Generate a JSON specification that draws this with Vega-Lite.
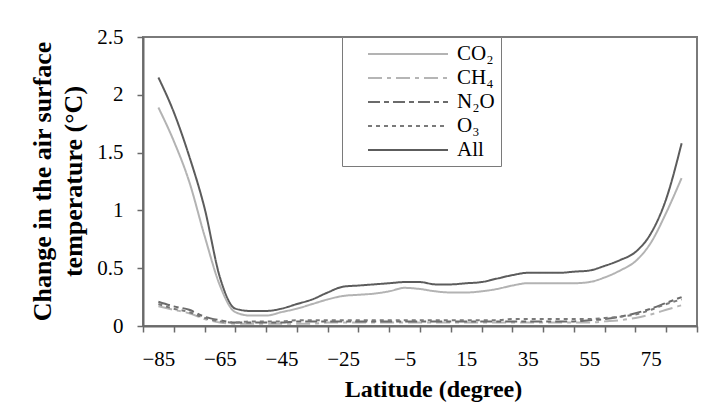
{
  "$schema": "https://vega.github.io/schema/vega-lite/v6.json",
  "width": 554,
  "height": 289,
  "autosize": "none",
  "padding": {"left": 143, "top": 37, "right": 18, "bottom": 81},
  "background": "white",
  "config": {
    "font": "Liberation Serif",
    "view": {"stroke": "#7a7a7a", "strokeWidth": 2},
    "axis": {"grid": false, "domainColor": "#6a6a6a", "domainWidth": 2, "tickColor": "#6a6a6a", "tickWidth": 1.5, "labelColor": "black", "titleColor": "black", "labelFont": "Liberation Serif", "titleFont": "Liberation Serif"}
  },
  "datasets": {
    "temps": [
      {"lat": -85, "series": "All", "value": 2.15}, {"lat": -80, "series": "All", "value": 1.85}, {"lat": -75, "series": "All", "value": 1.47}, {"lat": -70, "series": "All", "value": 1.02}, {"lat": -65, "series": "All", "value": 0.42}, {"lat": -60, "series": "All", "value": 0.15}, {"lat": -55, "series": "All", "value": 0.13}, {"lat": -50, "series": "All", "value": 0.13}, {"lat": -45, "series": "All", "value": 0.15}, {"lat": -40, "series": "All", "value": 0.19}, {"lat": -35, "series": "All", "value": 0.23}, {"lat": -30, "series": "All", "value": 0.29}, {"lat": -25, "series": "All", "value": 0.34}, {"lat": -20, "series": "All", "value": 0.35}, {"lat": -15, "series": "All", "value": 0.36}, {"lat": -10, "series": "All", "value": 0.37}, {"lat": -5, "series": "All", "value": 0.38}, {"lat": 0, "series": "All", "value": 0.38}, {"lat": 5, "series": "All", "value": 0.36}, {"lat": 10, "series": "All", "value": 0.36}, {"lat": 15, "series": "All", "value": 0.37}, {"lat": 20, "series": "All", "value": 0.38}, {"lat": 25, "series": "All", "value": 0.41}, {"lat": 30, "series": "All", "value": 0.44}, {"lat": 35, "series": "All", "value": 0.46}, {"lat": 40, "series": "All", "value": 0.46}, {"lat": 45, "series": "All", "value": 0.46}, {"lat": 50, "series": "All", "value": 0.47}, {"lat": 55, "series": "All", "value": 0.48}, {"lat": 60, "series": "All", "value": 0.52}, {"lat": 65, "series": "All", "value": 0.57}, {"lat": 70, "series": "All", "value": 0.64}, {"lat": 75, "series": "All", "value": 0.8}, {"lat": 80, "series": "All", "value": 1.1}, {"lat": 85, "series": "All", "value": 1.58},

      {"lat": -85, "series": "CO₂", "value": 1.89}, {"lat": -80, "series": "CO₂", "value": 1.6}, {"lat": -75, "series": "CO₂", "value": 1.25}, {"lat": -70, "series": "CO₂", "value": 0.78}, {"lat": -65, "series": "CO₂", "value": 0.35}, {"lat": -60, "series": "CO₂", "value": 0.12}, {"lat": -55, "series": "CO₂", "value": 0.09}, {"lat": -50, "series": "CO₂", "value": 0.09}, {"lat": -45, "series": "CO₂", "value": 0.12}, {"lat": -40, "series": "CO₂", "value": 0.15}, {"lat": -35, "series": "CO₂", "value": 0.19}, {"lat": -30, "series": "CO₂", "value": 0.23}, {"lat": -25, "series": "CO₂", "value": 0.26}, {"lat": -20, "series": "CO₂", "value": 0.27}, {"lat": -15, "series": "CO₂", "value": 0.28}, {"lat": -10, "series": "CO₂", "value": 0.3}, {"lat": -5, "series": "CO₂", "value": 0.33}, {"lat": 0, "series": "CO₂", "value": 0.32}, {"lat": 5, "series": "CO₂", "value": 0.3}, {"lat": 10, "series": "CO₂", "value": 0.29}, {"lat": 15, "series": "CO₂", "value": 0.29}, {"lat": 20, "series": "CO₂", "value": 0.3}, {"lat": 25, "series": "CO₂", "value": 0.32}, {"lat": 30, "series": "CO₂", "value": 0.35}, {"lat": 35, "series": "CO₂", "value": 0.37}, {"lat": 40, "series": "CO₂", "value": 0.37}, {"lat": 45, "series": "CO₂", "value": 0.37}, {"lat": 50, "series": "CO₂", "value": 0.37}, {"lat": 55, "series": "CO₂", "value": 0.38}, {"lat": 60, "series": "CO₂", "value": 0.42}, {"lat": 65, "series": "CO₂", "value": 0.48}, {"lat": 70, "series": "CO₂", "value": 0.56}, {"lat": 75, "series": "CO₂", "value": 0.72}, {"lat": 80, "series": "CO₂", "value": 0.98}, {"lat": 85, "series": "CO₂", "value": 1.28},

      {"lat": -85, "series": "CH₄", "value": 0.17}, {"lat": -80, "series": "CH₄", "value": 0.14}, {"lat": -75, "series": "CH₄", "value": 0.11}, {"lat": -70, "series": "CH₄", "value": 0.06}, {"lat": -65, "series": "CH₄", "value": 0.03}, {"lat": -60, "series": "CH₄", "value": 0.02}, {"lat": -55, "series": "CH₄", "value": 0.02}, {"lat": -50, "series": "CH₄", "value": 0.02}, {"lat": -45, "series": "CH₄", "value": 0.02}, {"lat": -40, "series": "CH₄", "value": 0.02}, {"lat": -35, "series": "CH₄", "value": 0.02}, {"lat": -30, "series": "CH₄", "value": 0.03}, {"lat": -25, "series": "CH₄", "value": 0.03}, {"lat": -20, "series": "CH₄", "value": 0.03}, {"lat": -15, "series": "CH₄", "value": 0.03}, {"lat": -10, "series": "CH₄", "value": 0.03}, {"lat": -5, "series": "CH₄", "value": 0.03}, {"lat": 0, "series": "CH₄", "value": 0.03}, {"lat": 5, "series": "CH₄", "value": 0.03}, {"lat": 10, "series": "CH₄", "value": 0.03}, {"lat": 15, "series": "CH₄", "value": 0.03}, {"lat": 20, "series": "CH₄", "value": 0.03}, {"lat": 25, "series": "CH₄", "value": 0.03}, {"lat": 30, "series": "CH₄", "value": 0.03}, {"lat": 35, "series": "CH₄", "value": 0.03}, {"lat": 40, "series": "CH₄", "value": 0.03}, {"lat": 45, "series": "CH₄", "value": 0.03}, {"lat": 50, "series": "CH₄", "value": 0.03}, {"lat": 55, "series": "CH₄", "value": 0.03}, {"lat": 60, "series": "CH₄", "value": 0.04}, {"lat": 65, "series": "CH₄", "value": 0.05}, {"lat": 70, "series": "CH₄", "value": 0.07}, {"lat": 75, "series": "CH₄", "value": 0.1}, {"lat": 80, "series": "CH₄", "value": 0.14}, {"lat": 85, "series": "CH₄", "value": 0.18},

      {"lat": -85, "series": "N₂O", "value": 0.21}, {"lat": -80, "series": "N₂O", "value": 0.17}, {"lat": -75, "series": "N₂O", "value": 0.14}, {"lat": -70, "series": "N₂O", "value": 0.08}, {"lat": -65, "series": "N₂O", "value": 0.05}, {"lat": -60, "series": "N₂O", "value": 0.03}, {"lat": -55, "series": "N₂O", "value": 0.03}, {"lat": -50, "series": "N₂O", "value": 0.03}, {"lat": -45, "series": "N₂O", "value": 0.03}, {"lat": -40, "series": "N₂O", "value": 0.04}, {"lat": -35, "series": "N₂O", "value": 0.04}, {"lat": -30, "series": "N₂O", "value": 0.04}, {"lat": -25, "series": "N₂O", "value": 0.04}, {"lat": -20, "series": "N₂O", "value": 0.04}, {"lat": -15, "series": "N₂O", "value": 0.04}, {"lat": -10, "series": "N₂O", "value": 0.04}, {"lat": -5, "series": "N₂O", "value": 0.04}, {"lat": 0, "series": "N₂O", "value": 0.04}, {"lat": 5, "series": "N₂O", "value": 0.04}, {"lat": 10, "series": "N₂O", "value": 0.04}, {"lat": 15, "series": "N₂O", "value": 0.04}, {"lat": 20, "series": "N₂O", "value": 0.04}, {"lat": 25, "series": "N₂O", "value": 0.04}, {"lat": 30, "series": "N₂O", "value": 0.04}, {"lat": 35, "series": "N₂O", "value": 0.04}, {"lat": 40, "series": "N₂O", "value": 0.04}, {"lat": 45, "series": "N₂O", "value": 0.04}, {"lat": 50, "series": "N₂O", "value": 0.04}, {"lat": 55, "series": "N₂O", "value": 0.05}, {"lat": 60, "series": "N₂O", "value": 0.06}, {"lat": 65, "series": "N₂O", "value": 0.08}, {"lat": 70, "series": "N₂O", "value": 0.11}, {"lat": 75, "series": "N₂O", "value": 0.15}, {"lat": 80, "series": "N₂O", "value": 0.2}, {"lat": 85, "series": "N₂O", "value": 0.25},

      {"lat": -85, "series": "O₃", "value": 0.19}, {"lat": -80, "series": "O₃", "value": 0.15}, {"lat": -75, "series": "O₃", "value": 0.12}, {"lat": -70, "series": "O₃", "value": 0.07}, {"lat": -65, "series": "O₃", "value": 0.04}, {"lat": -60, "series": "O₃", "value": 0.03}, {"lat": -55, "series": "O₃", "value": 0.04}, {"lat": -50, "series": "O₃", "value": 0.04}, {"lat": -45, "series": "O₃", "value": 0.04}, {"lat": -40, "series": "O₃", "value": 0.05}, {"lat": -35, "series": "O₃", "value": 0.05}, {"lat": -30, "series": "O₃", "value": 0.05}, {"lat": -25, "series": "O₃", "value": 0.05}, {"lat": -20, "series": "O₃", "value": 0.05}, {"lat": -15, "series": "O₃", "value": 0.05}, {"lat": -10, "series": "O₃", "value": 0.05}, {"lat": -5, "series": "O₃", "value": 0.05}, {"lat": 0, "series": "O₃", "value": 0.05}, {"lat": 5, "series": "O₃", "value": 0.05}, {"lat": 10, "series": "O₃", "value": 0.05}, {"lat": 15, "series": "O₃", "value": 0.05}, {"lat": 20, "series": "O₃", "value": 0.05}, {"lat": 25, "series": "O₃", "value": 0.05}, {"lat": 30, "series": "O₃", "value": 0.06}, {"lat": 35, "series": "O₃", "value": 0.06}, {"lat": 40, "series": "O₃", "value": 0.06}, {"lat": 45, "series": "O₃", "value": 0.06}, {"lat": 50, "series": "O₃", "value": 0.06}, {"lat": 55, "series": "O₃", "value": 0.06}, {"lat": 60, "series": "O₃", "value": 0.07}, {"lat": 65, "series": "O₃", "value": 0.08}, {"lat": 70, "series": "O₃", "value": 0.1}, {"lat": 75, "series": "O₃", "value": 0.14}, {"lat": 80, "series": "O₃", "value": 0.19}, {"lat": 85, "series": "O₃", "value": 0.23}
    ]
  },
  "data": {"name": "temps"},
  "mark": {"type": "line", "strokeCap": "butt", "interpolate": "monotone"},
  "encoding": {
    "x": {
      "field": "lat", "type": "quantitative",
      "scale": {"domain": [-90, 90], "nice": false, "zero": false},
      "axis": {
        "values": [-90,-85,-80,-75,-70,-65,-60,-55,-50,-45,-40,-35,-30,-25,-20,-15,-10,-5,0,5,10,15,20,25,30,35,40,45,50,55,60,65,70,75,80,85,90],
        "labelExpr": "((datum.value + 85) % 20 === 0 && datum.value <= 75) ? datum.label : ''",
        "tickOpacity": {"condition": {"test": "datum.value % 10 === 0", "value": 1}, "value": 0},
        "tickSize": 6,
        "labelPadding": 16,
        "labelFontSize": 21,
        "labelOverlap": false,
        "labelFlush": false,
        "title": "Latitude (degree)",
        "titleFontSize": 24,
        "titleFontWeight": "bold",
        "titleBaseline": "alphabetic",
        "titleY": 70,
        "titleX": 290
      }
    },
    "y": {
      "field": "value", "type": "quantitative",
      "scale": {"domain": [0, 2.5], "nice": false},
      "axis": {
        "values": [0, 0.5, 1, 1.5, 2, 2.5],
        "format": "~g",
        "tickSize": 6,
        "labelPadding": 14,
        "labelFontSize": 21,
        "title": ["Change in the air surface", "temperature (°C)"],
        "titleFontSize": 26,
        "titleFontWeight": "bold",
        "titleLineHeight": 31,
        "titleBaseline": "top",
        "titleX": -114,
        "titleY": 144,
        "titleAnchor": "middle"
      }
    },
    "color": {
      "field": "series", "type": "nominal",
      "scale": {"domain": ["CO₂", "CH₄", "N₂O", "O₃", "All"], "range": ["#b3b3b3", "#b5b5b5", "#6b6b6b", "#7a7a7a", "#5c5c5c"]},
      "legend": {
        "orient": "none",
        "legendX": 199,
        "legendY": 0,
        "title": null,
        "symbolType": "M0.9,0H8.9",
        "symbolSize": 400,
        "symbolFillColor": "transparent",
        "labelFontSize": 21,
        "labelColor": "black",
        "labelOffset": 87,
        "strokeColor": "#7a7a7a",
        "fillColor": "white",
        "padding": 6,
        "rowPadding": 3
      }
    },
    "strokeDash": {
      "field": "series", "type": "nominal",
      "scale": {"domain": ["CO₂", "CH₄", "N₂O", "O₃", "All"], "range": [[1, 0], [14, 5, 4, 5], [12, 4, 5, 4], [4, 4], [1, 0]]},
      "legend": null
    },
    "strokeWidth": {
      "field": "series", "type": "nominal",
      "scale": {"domain": ["CO₂", "CH₄", "N₂O", "O₃", "All"], "range": [2, 2, 3, 3, 3.5]},
      "legend": null
    }
  }
}
